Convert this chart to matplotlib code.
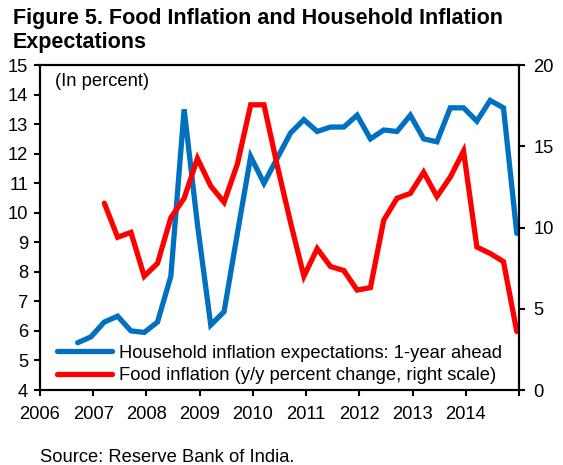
import numpy as np
import matplotlib
matplotlib.use("Agg")
import matplotlib.pyplot as plt
from matplotlib import ticker

plt.rcParams['font.family'] = ['Liberation Sans', 'DejaVu Sans']

# survey rounds (quarter-end month)
quarters = [
    "2006-09", "2006-12", "2007-03", "2007-06", "2007-09", "2007-12",
    "2008-03", "2008-06", "2008-09", "2008-12", "2009-03", "2009-06",
    "2009-09", "2009-12", "2010-03", "2010-06", "2010-09", "2010-12",
    "2011-03", "2011-06", "2011-09", "2011-12", "2012-03", "2012-06",
    "2012-09", "2012-12", "2013-03", "2013-06", "2013-09", "2013-12",
    "2014-03", "2014-06", "2014-09", "2014-12",
]

# household inflation expectations, 1-year ahead (left axis)
household_exp = [
    5.6, 5.8, 6.3, 6.5, 6.0, 5.95, 6.3, 7.85, 13.5, 9.6,
    6.2, 6.65, 9.3, 11.9, 11.0, 11.85, 12.7, 13.15, 12.75, 12.9,
    12.9, 13.3, 12.5, 12.8, 12.75, 13.3, 12.5, 12.4, 13.55, 13.55,
    13.1, 13.8, 13.55, 9.3,
]

# food inflation, y/y percent change (right axis)
food_infl = [
    np.nan, np.nan, 11.5, 9.4, 9.7, 7.0, 7.8, 10.6, 11.8, 14.25,
    12.55, 11.55, 13.9, 17.55, 17.55, 13.8, 10.3, 7.0, 8.7, 7.6,
    7.35, 6.15, 6.3, 10.45, 11.8, 12.1, 13.4, 11.9, 13.1, 14.7,
    8.8, 8.4, 7.9, 3.6,
]

year_ticks = list(range(2006, 2016))
year_labels = [str(y) for y in range(2006, 2015)] + [""]


def to_decimal_year(label):
    y, m = label.split("-")
    return int(y) + (int(m) - 0.5) / 12.0


x = [to_decimal_year(q) for q in quarters]

W, H = 563, 465
fig = plt.figure(figsize=(W / 100, H / 100), dpi=100)
ax = fig.add_axes([40 / W, 1 - 390 / H, 479 / W, 325 / H])
ax2 = ax.twinx()

blue = '#0070C0'
red = '#FF0000'
lw = 3.8

l1, = ax.plot(x, household_exp, color=blue, lw=lw, solid_capstyle='round',
              solid_joinstyle='miter',
              label='Household inflation expectations: 1-year ahead')
l2, = ax2.plot(x, food_infl, color=red, lw=lw, solid_capstyle='round',
               solid_joinstyle='miter',
               label='Food inflation (y/y percent change, right scale)')

ax.set_xlim(2006, 2015)
ax.set_ylim(4, 15)
ax2.set_ylim(0, 20)

ax.set_xticks(year_ticks)
ax.set_xticklabels(year_labels)
ax.yaxis.set_major_locator(ticker.MultipleLocator(1))
ax2.yaxis.set_major_locator(ticker.MultipleLocator(5))

fs = 13.2
for a in (ax, ax2):
    a.tick_params(direction='out', length=4.5, width=1.5, labelsize=fs,
                  colors='black', pad=4)
    for s in a.spines.values():
        s.set_linewidth(1.5)
ax.tick_params(axis='x', pad=7)
ax2.tick_params(axis='y', pad=6)

ax.text(0.032, 0.975, '(In percent)', transform=ax.transAxes,
        fontsize=fs, va='top', ha='left')

leg = ax2.legend(handles=[l1, l2], loc='lower left',
                 bbox_to_anchor=(10 / 479, -0.005), frameon=False,
                 fontsize=fs, handlelength=3.0, handletextpad=0.35,
                 labelspacing=0.3, borderaxespad=0)

fig.text(13 / W, 1 - 8 / H,
         'Figure 5. Food Inflation and Household Inflation\nExpectations',
         fontsize=15.5, fontweight='bold', va='top', ha='left',
         linespacing=1.2)
fig.text(40 / W, 1 - 457 / H, 'Source: Reserve Bank of India.',
         fontsize=fs, va='center', ha='left')

fig.savefig('out.png', dpi=100)
